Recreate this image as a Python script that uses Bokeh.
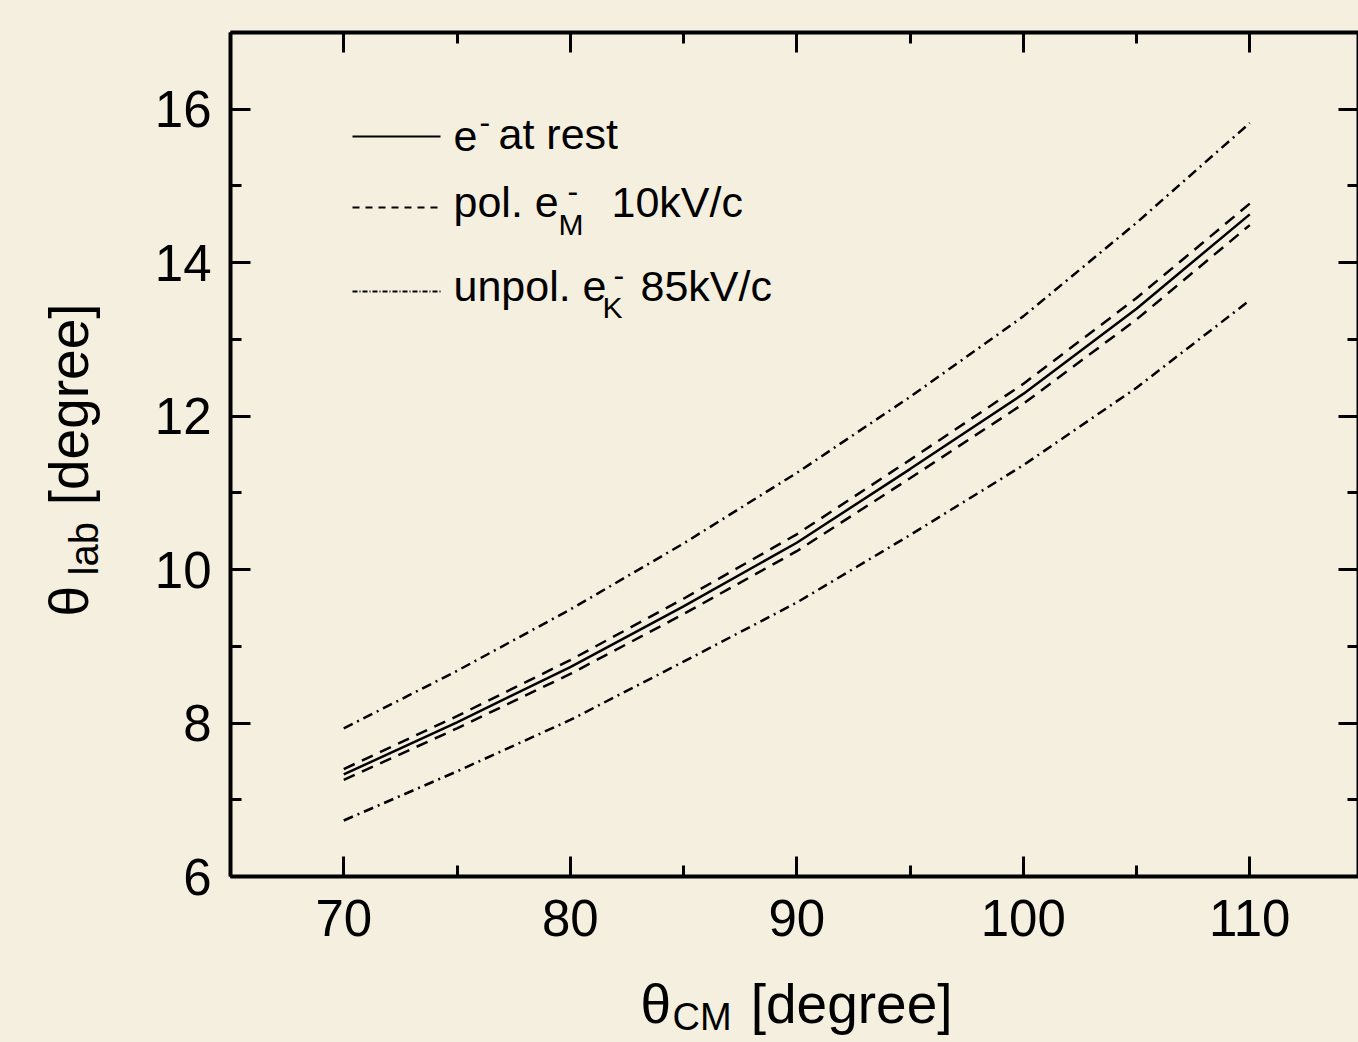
import math
from bokeh.plotting import figure
from bokeh.models import (Range1d, LinearAxis, SingleIntervalTicker, Label, Arrow,
                          CustomJSTickFormatter)
from bokeh.layouts import row, column
from bokeh.embed import file_html
from bokeh.resources import INLINE

# ---------------- data ----------------
theta_cm = [70, 75, 80, 85, 90, 95, 100, 105, 110]
e_rest = [7.33, 8.01, 8.73, 9.52, 10.35, 11.31, 12.29, 13.40, 14.63]
pol_upper = [7.40, 8.09, 8.82, 9.62, 10.46, 11.43, 12.42, 13.54, 14.77]
pol_lower = [7.26, 7.93, 8.64, 9.42, 10.24, 11.19, 12.16, 13.26, 14.49]
unpol_upper = [7.93, 8.68, 9.48, 10.34, 11.26, 12.25, 13.30, 14.52, 15.82]
unpol_lower = [6.73, 7.37, 8.04, 8.80, 9.57, 10.45, 11.36, 12.37, 13.51]

x_ticks_interval = 10
y_ticks_interval = 2

# ---------------- style / layout ----------------
BG = "#f4efde"
FONT = "Liberation Sans"
W, H = 1358, 1042
LEFT_W = 120          # side panel holding the y title
BOTTOM_H = 75         # band holding the x title
MAIN_W, MAIN_H = W - LEFT_W, H - BOTTOM_H
X_START, X_END = 65, 114.8
Y_START, Y_END = 6, 17
# frame position on the page (px)
FL, FR, FT, FB = 230, 1358, 32, 876


def dx(px):
    return X_START + (px - FL) / (FR - FL) * (X_END - X_START)


def dy(py):
    return Y_END - (py - FT) / (FB - FT) * (Y_END - Y_START)


p = figure(width=MAIN_W, height=MAIN_H,
           x_range=Range1d(X_START, X_END), y_range=Range1d(Y_START, Y_END),
           output_backend="svg", toolbar_location=None,
           min_border_left=FL - LEFT_W, min_border_right=W - FR,
           min_border_top=FT, min_border_bottom=MAIN_H - FB,
           background_fill_color=BG, border_fill_color=BG,
           outline_line_color=None)
p.grid.visible = False

xt = SingleIntervalTicker(interval=x_ticks_interval, num_minor_ticks=2)
yt = SingleIntervalTicker(interval=y_ticks_interval, num_minor_ticks=2)


def style_axis(ax, labels=True, standoff=16):
    ax.axis_line_width = 4
    ax.axis_line_color = "black"
    ax.major_tick_in = 20
    ax.major_tick_out = 0
    ax.minor_tick_in = 11
    ax.minor_tick_out = 0
    ax.major_tick_line_width = 3
    ax.minor_tick_line_width = 3
    ax.major_tick_line_color = "black"
    ax.minor_tick_line_color = "black"
    if labels:
        ax.major_label_text_font = FONT
        ax.major_label_text_font_size = "51px"
        ax.major_label_text_color = "black"
        ax.major_label_standoff = standoff
    else:
        ax.formatter = CustomJSTickFormatter(code="return ''")
        ax.major_label_text_font_size = "1px"
        ax.major_label_standoff = 0


p.xaxis.ticker = xt
p.yaxis.ticker = yt
style_axis(p.xaxis[0], standoff=23)
style_axis(p.yaxis[0], standoff=19)
p.yaxis[0].major_label_orientation = "horizontal"

top_ax = LinearAxis(ticker=SingleIntervalTicker(interval=x_ticks_interval, num_minor_ticks=2))
style_axis(top_ax, labels=False)
p.add_layout(top_ax, "above")
right_ax = LinearAxis(ticker=SingleIntervalTicker(interval=y_ticks_interval, num_minor_ticks=2))
style_axis(right_ax, labels=False)
p.add_layout(right_ax, "right")

# ---------------- curves ----------------
DASH = "12 8"
DASHDOT = "10 5 2 5"
p.line(theta_cm, unpol_upper, line_color="black", line_width=2.5, line_dash=DASHDOT)
p.line(theta_cm, pol_upper, line_color="black", line_width=2.5, line_dash=DASH)
p.line(theta_cm, e_rest, line_color="black", line_width=2.5)
p.line(theta_cm, pol_lower, line_color="black", line_width=2.5, line_dash=DASH)
p.line(theta_cm, unpol_lower, line_color="black", line_width=2.5, line_dash=DASHDOT)


# ---------------- text helpers ----------------
def txt(px, py, s, size, align="left"):
    # legend text inside the frame; py is the wanted baseline
    p.add_layout(Label(x=dx(px), y=dy(py + 0.13 * size), text=s, text_font=FONT,
                       text_font_size=f"{size}px", text_color="black",
                       text_align=align, text_baseline="bottom"))


def sample(py, dash):
    kw = dict(end=None, x_start=dx(352), y_start=dy(py), x_end=dx(440), y_end=dy(py),
              line_color="black", line_width=2)
    if dash:
        kw["line_dash"] = dash
    p.add_layout(Arrow(**kw))


# legend
sample(136, None)
txt(453, 145, "e", 43)
txt(479, 128, "-", 32)
txt(498, 152, "at rest", 43)

sample(207, "7 6")
txt(453, 220, "pol. e", 43)
txt(558, 237, "M", 30)
txt(567, 197, "-", 32)
txt(611, 220, "10kV/c", 43)

sample(291, "5 2 1 2")
txt(453, 304, "unpol. e", 43)
txt(602, 320, "K", 30)
txt(613, 281, "-", 32)
txt(640, 304, "85kV/c", 43)


# ---------------- axis titles (in side panels) ----------------
def panel(w, h):
    f = figure(width=w, height=h, x_range=Range1d(0, 1), y_range=Range1d(0, 1),
               x_axis_type=None, y_axis_type=None, output_backend="svg",
               toolbar_location=None, min_border=0,
               min_border_left=0, min_border_right=0, min_border_top=0, min_border_bottom=0,
               background_fill_color=BG, border_fill_color=BG, outline_line_color=None)
    f.grid.visible = False
    return f


def ptxt(f, x, y, s, size, align="left", angle=0.0):
    f.add_layout(Label(x=x, y=y, x_units="canvas", y_units="canvas", text=s,
                       text_font=FONT, text_font_size=f"{size}px", text_color="black",
                       text_align=align, text_baseline="bottom", angle=angle,
                       level="overlay"))


left_fig = panel(LEFT_W, H)
# rotated title, baselines at page x, text running upward from page y
ptxt(left_fig, 92 + 0.13 * 55, 616, "θ", 55, angle=math.pi / 2)
ptxt(left_fig, 100 + 0.13 * 40, 575, "lab", 40, angle=math.pi / 2)
ptxt(left_fig, 92 + 0.13 * 55, 303, "[degree]", 55, align="right", angle=math.pi / 2)

bottom_fig = panel(MAIN_W, BOTTOM_H)
ptxt(bottom_fig, 640 - LEFT_W, 1027 - MAIN_H + 0.13 * 55, "θ", 55)
ptxt(bottom_fig, 672 - LEFT_W, 1033 - MAIN_H + 0.13 * 38, "CM", 38)
ptxt(bottom_fig, 952 - LEFT_W, 1027 - MAIN_H + 0.13 * 55, "[degree]", 55, align="right")

layout = row(left_fig, column(p, bottom_fig, styles={"background-color": BG}),
             styles={"background-color": BG})
open("out.html", "w").write(file_html(layout, INLINE))
